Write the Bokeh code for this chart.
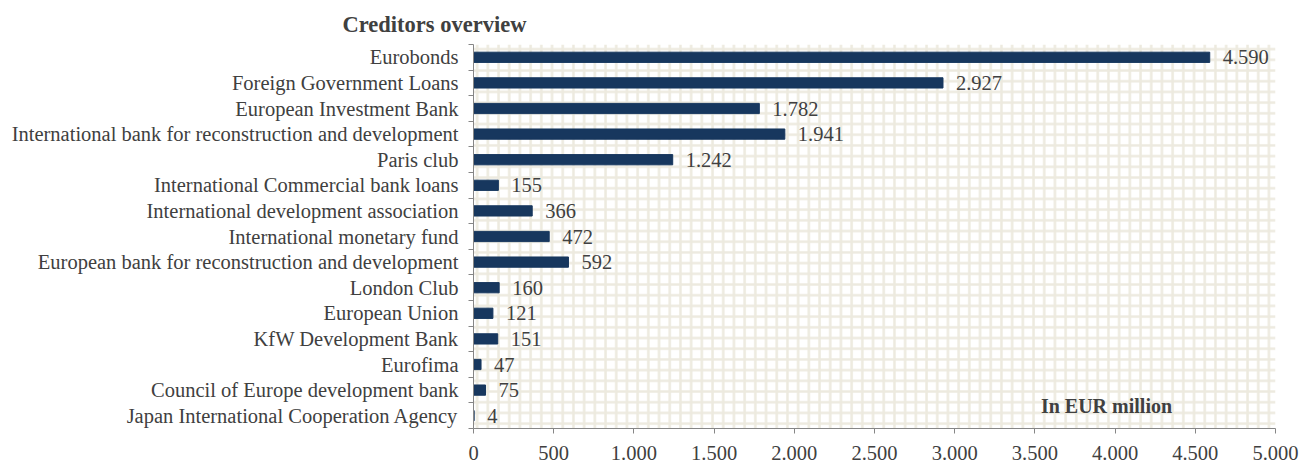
from bokeh.plotting import figure
from bokeh.models import ColumnDataSource, FixedTicker, BoxAnnotation, Label, Range1d
from bokeh.embed import file_html
from bokeh.resources import INLINE
from bokeh.core.properties import value

categories = [
    "Eurobonds",
    "Foreign Government Loans",
    "European Investment Bank",
    "International bank for reconstruction and development",
    "Paris club",
    "International Commercial bank loans",
    "International development association",
    "International monetary fund",
    "European bank for reconstruction and development",
    "London Club",
    "European Union",
    "KfW Development Bank",
    "Eurofima",
    "Council of Europe development bank",
    "Japan International Cooperation Agency",
]
amounts = [4590, 2927, 1782, 1941, 1242, 155, 366, 472, 592, 160, 121, 151, 47, 75, 4]
x_ticks = [0, 500, 1000, 1500, 2000, 2500, 3000, 3500, 4000, 4500, 5000]
x_tick_labels = ["0", "500", "1.000", "1.500", "2.000", "2.500", "3.000", "3.500", "4.000", "4.500", "5.000"]

FONT = "Liberation Serif"
TXT = "#404040"
FS = "20.5px"
n = len(categories)
ypos = [n - 0.5 - i for i in range(n)]
labels = [f"{v:,}".replace(",", ".") for v in amounts]

src = ColumnDataSource(dict(y=ypos, v=amounts, lab=labels, cat=categories))

p = figure(width=1299, height=461, output_backend="svg", toolbar_location=None,
           x_range=Range1d(0, 5000), y_range=Range1d(0, n),
           min_border_left=473, min_border_right=24, min_border_top=44, min_border_bottom=33,
           frame_width=802, frame_height=384)
p.outline_line_color = None
p.xgrid.grid_line_color = None
p.ygrid.grid_line_color = None
p.background_fill_color = "white"

p.title.text = "Creditors overview"
p.title.text_font = FONT
p.title.text_font_size = "22.5px"
p.title.text_font_style = "bold"
p.title.text_color = TXT
p.title.align = "left"
p.title.offset = -131
p.title.standoff = 16

bg = BoxAnnotation(fill_color="white", fill_alpha=1, line_color=None, level="underlay",
                   hatch_pattern="+", hatch_color="#EDEADF", hatch_scale=10.7, hatch_weight=2.5)
p.add_layout(bg)

p.hbar(y="y", right="v", left=0, height=0.4, source=src, fill_color="#17375E", line_color="#17375E")
p.text(x="v", y="y", text="lab", source=src, x_offset=13, text_baseline="middle",
       text_font=value(FONT), text_font_size=FS, text_color=TXT)

# y axis
p.yaxis.ticker = FixedTicker(ticks=ypos, minor_ticks=list(range(n + 1)))
p.yaxis.major_label_overrides = {y: c for y, c in zip(ypos, categories)}
p.yaxis.major_tick_line_color = None
p.yaxis.major_tick_out = 5
p.yaxis.major_tick_in = 0
p.yaxis.minor_tick_out = 5
p.yaxis.minor_tick_in = 0
p.yaxis.minor_tick_line_color = "#868686"
p.yaxis.axis_line_color = "#868686"
p.yaxis.major_label_standoff = 10
p.yaxis.major_label_text_font = FONT
p.yaxis.major_label_text_font_size = FS
p.yaxis.major_label_text_color = TXT

# x axis
p.xaxis.ticker = FixedTicker(ticks=x_ticks, minor_ticks=[])
p.xaxis.major_label_overrides = {t: l for t, l in zip(x_ticks, x_tick_labels)}
p.xaxis.major_tick_out = 5
p.xaxis.major_tick_in = 0
p.xaxis.major_tick_line_color = "#868686"
p.xaxis.axis_line_color = "#868686"
p.xaxis.major_label_standoff = 12
p.xaxis.major_label_text_font = FONT
p.xaxis.major_label_text_font_size = FS
p.xaxis.major_label_text_color = TXT

unit = Label(x=633, y=23, x_units="screen", y_units="screen", text="In EUR million",
             text_font=FONT, text_font_size="20px", text_font_style="bold", text_color=TXT,
             text_baseline="middle", text_align="center")
p.add_layout(unit)

open("out.html", "w").write(file_html(p, INLINE))
